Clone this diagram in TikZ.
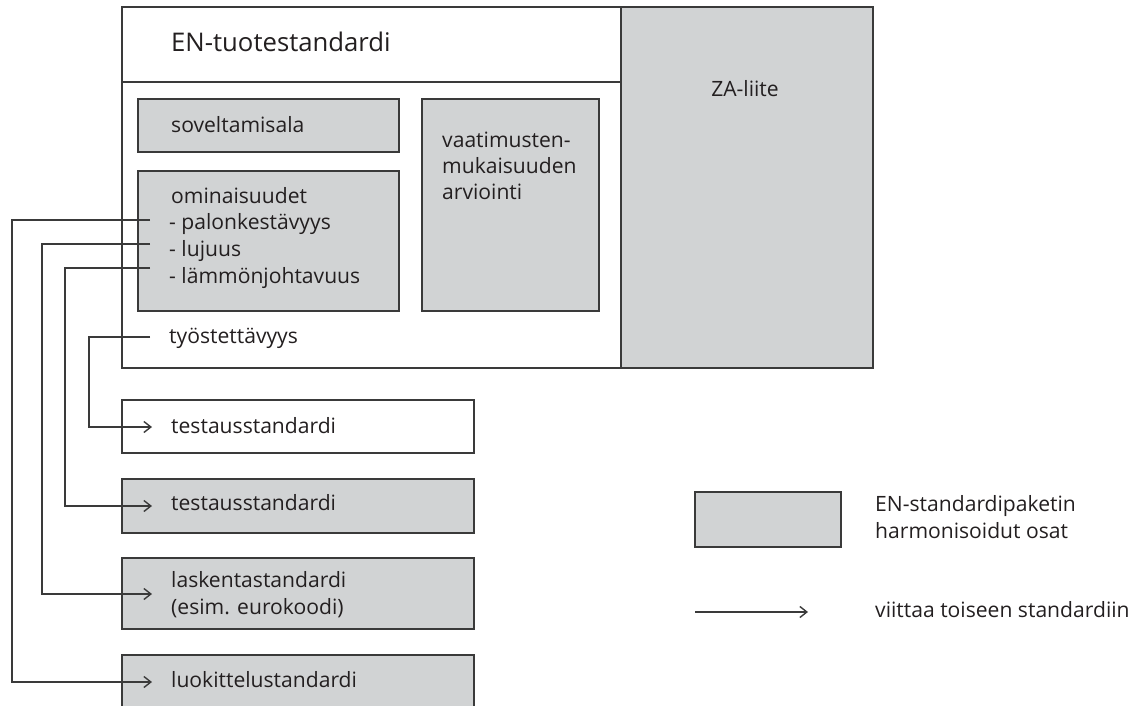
\documentclass[tikz,border=0pt]{standalone}
\usepackage{fontspec}
\setmainfont{Open Sans}
\usetikzlibrary{arrows.meta,calc}
\definecolor{fillgray}{HTML}{D1D3D4}
\definecolor{linegray}{HTML}{3A3A3A}
\definecolor{txt}{HTML}{231F20}
\begin{document}
\begin{tikzpicture}[x=1pt,y=-1pt,
  box/.style={draw=linegray,line width=1.5pt,fill=white,anchor=north west,inner sep=0pt,outer sep=0pt},
  graybox/.style={box,fill=fillgray},
  lbl/.style={anchor=base west,inner sep=0pt,text=txt,font=\fontsize{21.1}{26}\selectfont},
  title/.style={lbl,font=\fontsize{25.7}{32}\selectfont},
  ref/.style={draw=linegray,line width=1.4pt,-{Straight Barb[length=7pt,width=11pt,line width=1.4pt]}}]
\useasboundingbox (0,0) rectangle (1146,706);
\clip (0,0) rectangle (1146,706);
% main standard box
\node[box,minimum width=751pt,minimum height=361pt] (outer) at (122,7) {};
\node[graybox,minimum width=252pt,minimum height=361pt] (za) at (621,7) {};
\draw[linegray,line width=1.5pt] (122,82) -- (621,82);
\node[title] (entitle) at (171,52) {EN-tuotestandardi};
\node[lbl,anchor=base] (zatext) at (745,97) {ZA-liite};
% inner boxes
\node[graybox,minimum width=261pt,minimum height=53pt] (sov) at (138,99) {};
\node[lbl] (sovtext) at (171,133) {soveltamisala};
\node[graybox,minimum width=261pt,minimum height=140pt] (omin) at (138,171) {};
\node[lbl] (omintext) at (171,203) {ominaisuudet};
\node[lbl] (palo) at (169,229) {- palonkestävyys};
\node[lbl] (luj) at (169,256) {- lujuus};
\node[lbl] (lam) at (169,283) {- lämmönjohtavuus};
\node[graybox,minimum width=177pt,minimum height=212pt] (vaat) at (422,99) {};
\node[lbl] (vaattext1) at (442,147) {vaatimusten-};
\node[lbl] (vaattext2) at (442,173) {mukaisuuden};
\node[lbl] (vaattext3) at (442,199) {arviointi};
\node[lbl] (tyo) at (169,343) {työstettävyys};
% lower boxes
\node[box,minimum width=352pt,minimum height=53pt] (test1) at (122,400) {};
\node[lbl] (test1text) at (171,433) {testausstandardi};
\node[graybox,minimum width=352pt,minimum height=54pt] (test2) at (122,479) {};
\node[lbl] (test2text) at (171,510) {testausstandardi};
\node[graybox,minimum width=352pt,minimum height=71pt] (lask) at (122,558) {};
\node[lbl] (lasktext) at (171,587) {laskentastandardi};
\node[lbl] (lasktext2) at (171,614) {(esim. eurokoodi)};
\node[graybox,minimum width=352pt,minimum height=80pt] (luok) at (122,655) {};
\node[lbl] (luoktext) at (171,687) {luokittelustandardi};
% arrow tips
\coordinate (t1) at (152,427);
\coordinate (t2) at (152,506);
\coordinate (t3) at (152,594);
\coordinate (t4) at (152,682);
% connectors
\draw[ref] ([xshift=-19pt]palo.west |- 0,220) -| (12,682) -- (t4);
\draw[ref] ([xshift=-19pt]luj.west |- 0,244) -| (42,594) -- (t3);
\draw[ref] ([xshift=-19pt]lam.west |- 0,268) -| (65,506) -- (t2);
\draw[ref] ([xshift=-19pt]tyo.west |- 0,337) -| (89,427) -- (t1);
% legend
\node[graybox,minimum width=146pt,minimum height=55pt] (leg) at (695,492) {};
\node[lbl] (legtext1) at (875,511) {EN-standardipaketin};
\node[lbl] (legtext2) at (875,538) {harmonisoidut osat};
\coordinate (la) at (695,612);
\coordinate (lb) at (808,612);
\draw[ref] (la) -- (lb);
\node[lbl] (legtext3) at (875,617) {viittaa toiseen standardiin};
\end{tikzpicture}
\end{document}
